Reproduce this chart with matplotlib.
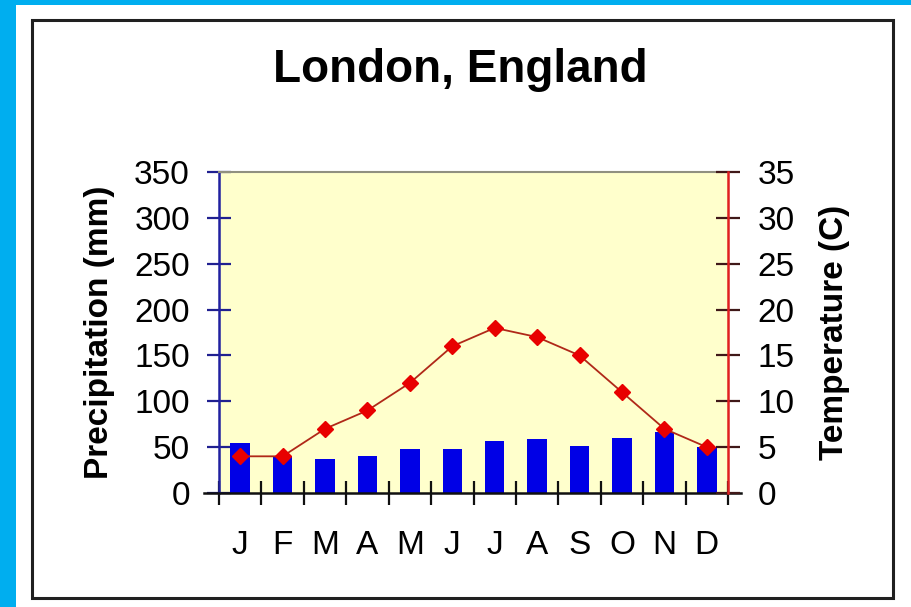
import matplotlib
matplotlib.use("Agg")
import matplotlib.pyplot as plt
from matplotlib.patches import Rectangle
from matplotlib.lines import Line2D
import numpy as np

# London climate normals
months = ["J", "F", "M", "A", "M", "J", "J", "A", "S", "O", "N", "D"]
precip_mm = [54, 40, 37, 40, 48, 48, 57, 59, 51, 60, 66, 50]
temp_c = [4, 4, 7, 9, 12, 16, 18, 17, 15, 11, 7, 5]
precip_ticks = [0, 50, 100, 150, 200, 250, 300, 350]
temp_ticks = [0, 5, 10, 15, 20, 25, 30, 35]

plt.rcParams["font.family"] = ["Liberation Sans", "DejaVu Sans"]

W, H = 912, 607
fig = plt.figure(figsize=(W / 100, H / 100), dpi=100, facecolor="white")

# cyan page border and the black panel frame
fig.patches.append(Rectangle((0, 0), 16 / W, 1, transform=fig.transFigure,
                             facecolor="#00AEEF", edgecolor="none", zorder=0))
fig.patches.append(Rectangle((0, 1 - 5 / H), 1, 5 / H, transform=fig.transFigure,
                             facecolor="#00AEEF", edgecolor="none", zorder=0))
fig.patches.append(Rectangle((32 / W, 1 - 598 / H), (893 - 32) / W, (598 - 20) / H,
                             transform=fig.transFigure, facecolor="none",
                             edgecolor="#202020", lw=2.2, zorder=1))

x0, x1, ytop, ybot = 219, 728, 172, 493
ax = fig.add_axes([x0 / W, 1 - ybot / H, (x1 - x0) / W, (ybot - ytop) / H])
ax.set_facecolor("#FFFFCC")

x = np.arange(len(months))
ax.bar(x, precip_mm, width=0.46, color="#0000E6", zorder=2)
ax.set_xlim(-0.5, len(months) - 0.5)
ax.set_ylim(0, 350)
ax.set_yticks(precip_ticks)
ax.set_yticklabels([str(v) for v in precip_ticks], fontsize=24)
ax.tick_params(axis="y", direction="inout", length=17, width=1.6,
               color="#202090", pad=12.5)

# ticks at month boundaries, labels at month centres
ax.set_xticks(np.arange(len(months) + 1) - 0.5)
ax.set_xticklabels([])
ax.set_xticks(x, minor=True)
ax.set_xticklabels(months, minor=True, fontsize=24)
ax.tick_params(axis="x", which="major", direction="inout", length=17, width=1.6,
               color="#101010")
ax.tick_params(axis="x", which="minor", length=0, pad=27)

ax.spines["left"].set_color("#2020A0")
ax.spines["left"].set_linewidth(1.8)
ax.spines["top"].set_color("#909080")
ax.spines["top"].set_linewidth(1.5)
ax.spines["bottom"].set_visible(False)
ax.spines["right"].set_visible(False)
# baseline runs a little past both vertical axes
ax.add_line(Line2D([-0.03, 1.025], [0, 0], transform=ax.transAxes, color="#101010",
                   lw=1.8, clip_on=False, zorder=5))

ax.set_ylabel("Precipitation (mm)", fontsize=24, fontweight="bold", labelpad=14)

ax2 = ax.twinx()
ax2.plot(x, temp_c, color="#B02818", lw=1.3, marker="D", ms=8,
         markerfacecolor="#E80000", markeredgecolor="#E80000", zorder=3)
ax2.set_ylim(0, 35)
ax2.set_yticks(temp_ticks)
ax2.set_yticklabels([str(v) for v in temp_ticks], fontsize=24)
ax2.tick_params(axis="y", direction="inout", length=17, width=1.6,
                color="#401818", pad=13)
for side in ["left", "top", "bottom"]:
    ax2.spines[side].set_visible(False)
ax2.spines["right"].set_color("#E02020")
ax2.spines["right"].set_linewidth(1.8)
ax2.set_ylabel("Temperature (C)", fontsize=24, fontweight="bold", labelpad=17)

fig.text(460 / W, 1 - 70 / H, "London, England", ha="center", va="center",
         fontsize=33, fontweight="bold")

fig.savefig("out.png", dpi=100, facecolor="white")
